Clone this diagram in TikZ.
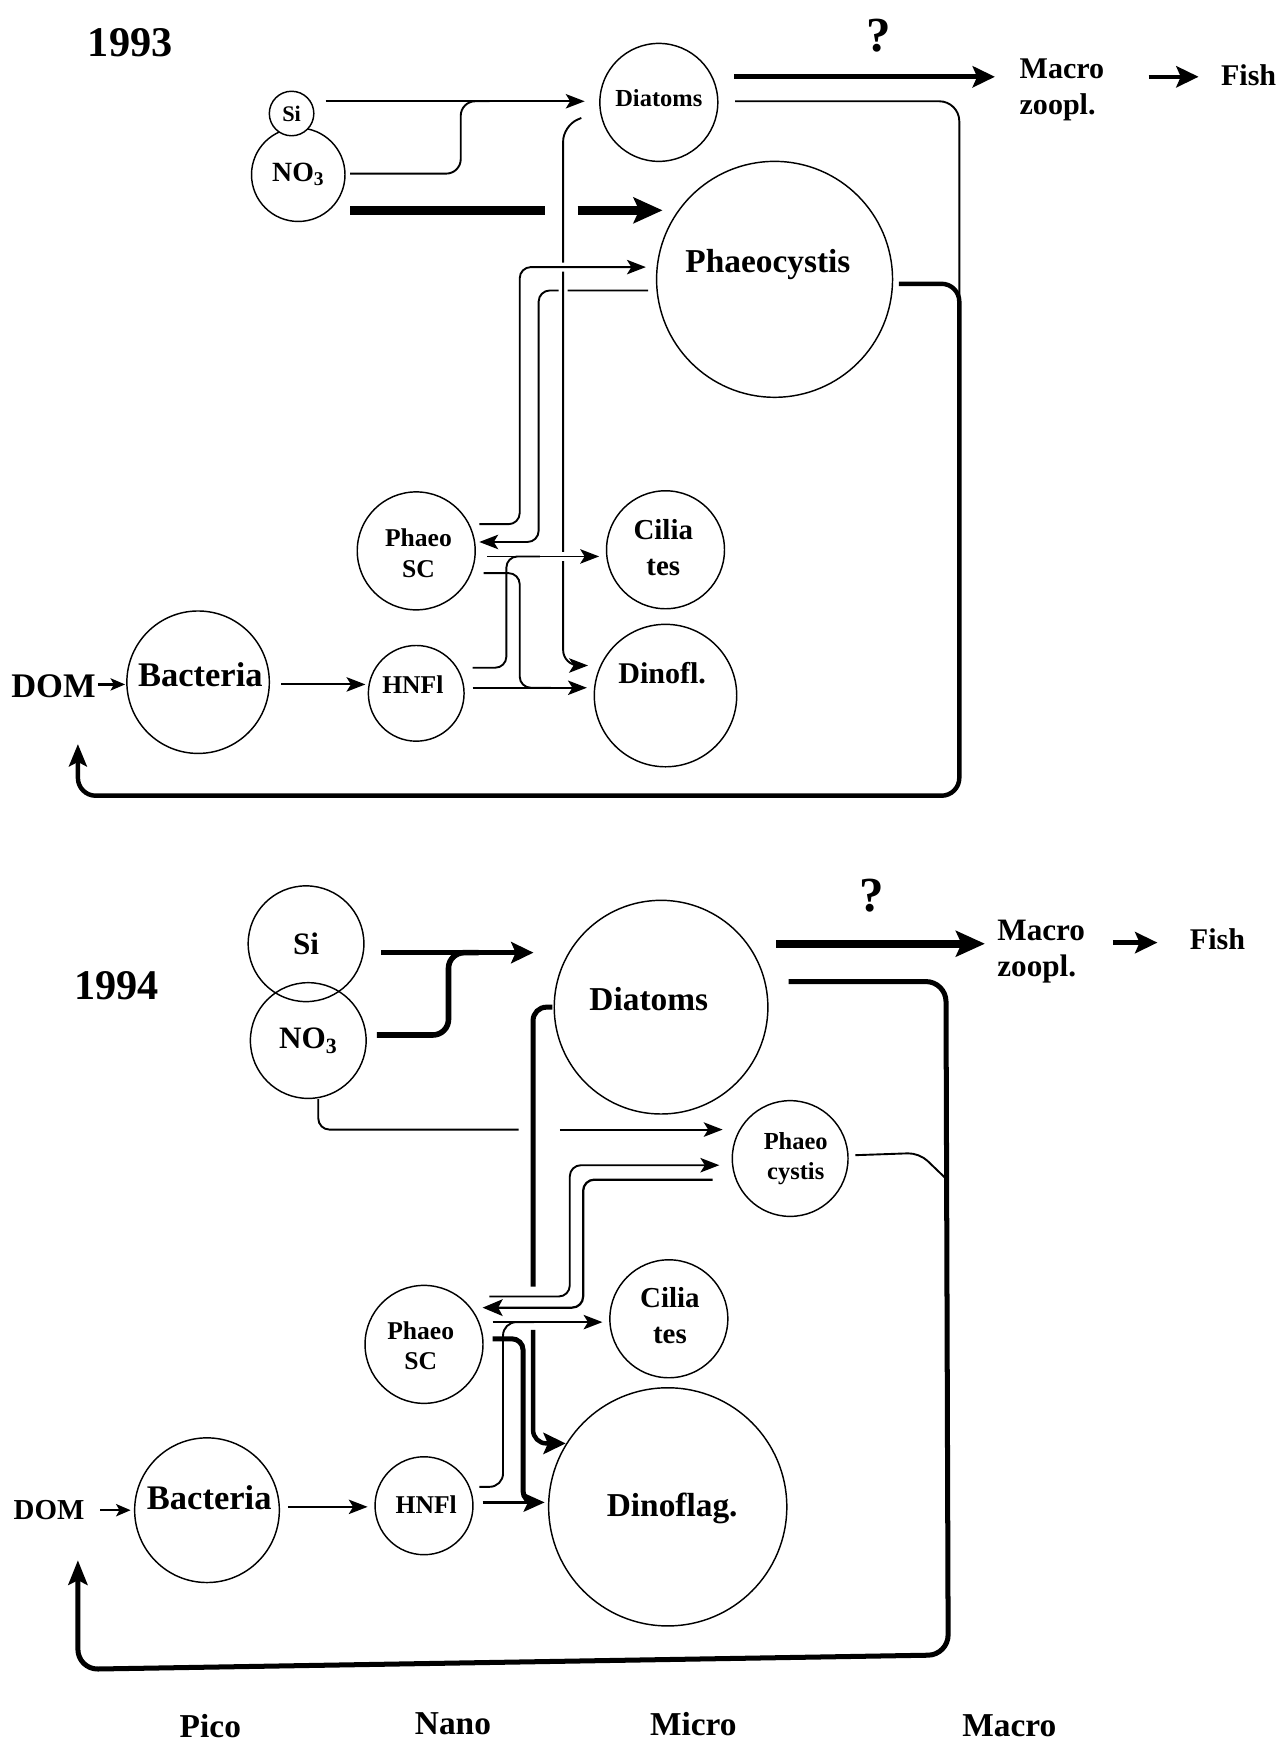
\documentclass[tikz,border=0pt]{standalone}
\usepackage{fontspec}
\setmainfont{Liberation Serif}
\usetikzlibrary{arrows.meta,calc}
\begin{document}
\begin{tikzpicture}[x=1pt,y=-1pt,
  cir/.style={draw, circle, inner sep=0pt, line width=1.3pt},
  lab/.style 2 args={font=\bfseries\fontsize{#1}{#2}\selectfont, align=center, inner sep=0pt},
  ln/.style={line width=1.7pt},
  thinarr/.style={ln, -{Stealth[length=17pt,width=13pt,inset=4pt]}},
  medarr/.style={line width=2pt, -{Stealth[length=18pt,width=15pt,inset=4pt]}},
  thk/.style={line width=4.5pt},
  thkarr/.style={thk, -{Stealth[length=20pt,width=19pt,inset=4pt]}},
  vthk/.style={line width=7.5pt},
  vthkarr/.style={vthk, -{Stealth[length=26pt,width=23pt,inset=5pt]}},
  halo/.style={preaction={draw=white, line width=8pt, -}},
]
\useasboundingbox (0,0) rectangle (1150,1568);

%================ 1993 =================
\node[cir, minimum size=84pt, lab={25}{30}] (no31) at (268,157) {NO\textsubscript{3}};
\node[cir, fill=white, minimum size=40pt, lab={20}{24}] (si1) at (262,102) {Si};
\node[cir, minimum size=106pt] (diat1) at (592,92) {};
\node[lab={22}{26}] (diat1t) at (592,88) {Diatoms};
\node[cir, minimum size=212pt] (phc1) at (696,251) {};
\node[lab={30}{36}] (phc1t) at (690,238) {Phaeocystis};
\node[cir, minimum size=106pt] (psc1) at (374,495) {};
\node[lab={23}{28}] (psc1t) at (376,497) {Phaeo\\SC};
\node[cir, minimum size=106pt] (cil1) at (598,494) {};
\node[lab={26}{32}] (cil1t) at (596,492) {Cilia\\tes};
\node[cir, minimum size=86pt] (hnf1) at (374,623) {};
\node[lab={23}{28}] (hnf1t) at (371,615) {HNFl};
\node[cir, minimum size=128pt] (dino1) at (598,625) {};
\node[lab={27}{32}] (dino1t) at (595,605) {Dinofl.};
\node[cir, minimum size=128pt] (bact1) at (178,613) {};
\node[lab={31}{36}] (bact1t) at (180,606) {Bacteria};
\node[lab={31}{36}] (dom1) at (48,617) {DOM};
\node[lab={38}{44}] (y1993) at (117,38) {1993};
\node[lab={44}{50}] (q1) at (790,32) {?};
\node[lab={27}{32}, anchor=west, align=left] (mac1) at (916,81) {Macro\\zoopl.};
\node[lab={27}{32}, anchor=west] (fish1) at (1097,68) {Fish};

\coordinate (j1) at (440,91);
\coordinate (g1) at (519,189);
\coordinate (j2) at (485,500);
\coordinate (j3) at (495,618);

% Si -> Diatoms, NO3 joins
\draw[thinarr] ($(si1.east)+(10,-11)$) -- ($(diat1.west)+(-13,-1)$);
\draw[ln, rounded corners=13pt] ($(no31.east)+(4,-1)$) -- (414,156) -- (414,91) -- (j1);
% NO3 -> Phaeocystis (thick, broken)
\draw[vthk] ($(no31.east)+(4,32)$) -- (490,189);
\draw[vthkarr] (g1) -- ($(phc1.west)+(6,-62)$);
% Diatoms -> Macrozoopl -> Fish
\draw[thkarr] ($(diat1.east)+(14,-23)$) -- ($(mac1.west)+(-22,-12)$);
\draw[thkarr, line width=4pt] ($(fish1.west)+(-65,1)$) -- ($(fish1.west)+(-20,1)$);
% return loop
\draw[ln, rounded corners=18pt] ($(diat1.east)+(15,-1)$) -- (862,91) -- (862,275);
\draw[line width=4pt, -{Stealth[length=20pt,width=16pt,inset=4pt]}, rounded corners=16pt]
  ($(phc1.east)+(5,4)$) -- (862,255) -- (862,715) -- (70,715) -- ($(dom1.south)+(22,41)$);
% Phaeocystis -> Phaeo SC (inner)
\draw[thinarr, rounded corners=10pt] ($(phc1.west)+(-7,10)$) -- (484,261) -- (484,487) -- ($(psc1.east)+(3,-8)$);
% Diatoms -> Dinofl.
\draw[thinarr, halo, rounded corners=14pt] ($(diat1.west)+(-16,14)$) -- (506,113) -- (506,598) -- ($(dino1.west)+(-5,-27)$);
% Phaeo SC -> Phaeocystis (outer)
\draw[thinarr, halo, rounded corners=10pt] ($(psc1.east)+(3,-24)$) -- (467,471) -- (467,240) -- ($(phc1.west)+(-9,-11)$);
% Phaeo SC -> Ciliates
\draw[thinarr, halo] ($(psc1.east)+(10,5)$) -- ($(cil1.west)+(-6,6)$);
% HNFl -> Ciliates
\draw[ln, rounded corners=10pt] ($(hnf1.east)+(7,-23)$) -- (455,600) -- (455,500) -- (j2);
% Phaeo SC -> Dinofl.
\draw[ln, rounded corners=10pt] ($(psc1.east)+(7,20)$) -- (467,515) -- (467,618) -- (j3);
% HNFl -> Dinofl.
\draw[thinarr] ($(hnf1.east)+(7,-5)$) -- ($(dino1.west)+(-6,-7)$);
% DOM -> Bacteria -> HNFl
\draw[line width=2pt, -{Stealth[length=13pt,width=11pt,inset=3pt]}] ($(dom1.east)+(2,-2)$) -- ($(bact1.west)+(-1,2)$);
\draw[thinarr] ($(bact1.east)+(10,2)$) -- ($(hnf1.west)+(-2,-8)$);

%================ 1994 =================
\node[cir, minimum size=104pt, lab={28}{32}] (si2) at (275,848) {Si};
\node[cir, minimum size=104pt, lab={28}{32}] (no32) at (277,935) {NO\textsubscript{3}};
\node[cir, minimum size=192pt] (diat2) at (594,905) {};
\node[lab={30}{36}] (diat2t) at (583,898) {Diatoms};
\node[cir, minimum size=104pt] (phc2) at (710,1041) {};
\node[lab={22}{27}] (phc2t) at (715,1041) {Phaeo\\cystis};
\node[cir, minimum size=106pt] (psc2) at (381,1208) {};
\node[lab={23}{27}] (psc2t) at (378,1209) {Phaeo\\SC};
\node[cir, minimum size=106pt] (cil2) at (601,1185) {};
\node[lab={26}{32}] (cil2t) at (602,1182) {Cilia\\tes};
\node[cir, minimum size=88pt] (hnf2) at (381,1353) {};
\node[lab={23}{28}] (hnf2t) at (383,1352) {HNFl};
\node[cir, minimum size=214pt] (dino2) at (600,1354) {};
\node[lab={30}{36}] (dino2t) at (604,1355) {Dinoflag.};
\node[cir, minimum size=130pt] (bact2) at (186,1357) {};
\node[lab={31}{36}] (bact2t) at (188,1346) {Bacteria};
\node[lab={26}{32}] (dom2) at (44,1357) {DOM};
\node[lab={38}{44}] (y1994) at (105,886) {1994};
\node[lab={44}{50}] (q2) at (783,805) {?};
\node[lab={28}{33}, anchor=west, align=left] (mac2) at (896,855) {Macro\\zoopl.};
\node[lab={27}{32}, anchor=west] (fish2) at (1069,844) {Fish};

\node[lab={30}{36}] (pico) at (189,1551) {Pico};
\node[lab={30}{36}] (nano) at (407,1549) {Nano};
\node[lab={30}{36}] (micro) at (623,1549) {Micro};
\node[lab={30}{36}] (macro) at (907,1551) {Macro};

\coordinate (k1) at (430,856);
\coordinate (k2) at (466,1015);
\coordinate (g2) at (503,1015);
\coordinate (k3) at (479,1156);
\coordinate (g3) at (479,1195);
\coordinate (k4) at (851,1060);
\coordinate (k5) at (480,1188);
\coordinate (k6) at (480,1350);

% Si -> Diatoms, NO3 joins
\draw[thkarr, line width=5pt] ($(si2.east)+(15,8)$) -- ($(diat2.west)+(-18,-49)$);
\draw[line width=5pt, rounded corners=14pt] ($(no32.east)+(9,-5)$) -- (403,930) -- (403,856) -- (k1);
% Diatoms -> Macrozoopl -> Fish
\draw[vthkarr] ($(diat2.east)+(7,-57)$) -- ($(mac2.west)+(-11,-7)$);
\draw[thkarr, line width=5pt] ($(fish2.west)+(-69,3)$) -- ($(fish2.west)+(-29,3)$);
% return loop
\draw[line width=4.5pt, -{Stealth[length=22pt,width=17pt,inset=4pt]}, rounded corners=18pt]
  ($(diat2.east)+(18,-23)$) -- (850,882) -- (852,1487) -- (70,1500) -- ($(dom2.south)+(26,36)$);
\draw[ln, rounded corners=10pt] ($(phc2.east)+(6,-3)$) -- (826,1036) -- (k4);
% NO3 -> Phaeocystis (broken)
\draw[ln, rounded corners=10pt] ($(no32.south)+(9,0)$) -- (286,1015) -- (k2);
\draw[thinarr] (g2) -- ($(phc2.west)+(-8,-26)$);
% Diatoms -> Dinoflag. (thick, broken)
\draw[line width=4.5pt, rounded corners=12pt] ($(diat2.west)+(-1,0)$) -- (479,905) -- (k3);
\draw[thkarr, line width=4pt, rounded corners=12pt] (g3) -- (479,1297) -- ($(dino2.west)+(16,-57)$);
% Phaeo SC -> Phaeocystis (outer)
\draw[thinarr, rounded corners=10pt] ($(psc2.east)+(5,-43)$) -- (512,1165) -- (512,1047) -- ($(phc2.west)+(-11,6)$);
% Phaeocystis -> Phaeo SC (inner)
\draw[medarr, rounded corners=10pt] ($(phc2.west)+(-17,19)$) -- (524,1060) -- (524,1175) -- ($(psc2.east)+(-1,-33)$);
% Phaeo SC -> Ciliates
\draw[thinarr] ($(psc2.east)+(8,-20)$) -- ($(cil2.west)+(-6,3)$);
% HNFl -> Ciliates
\draw[ln, rounded corners=12pt] ($(hnf2.east)+(5,-17)$) -- (452,1336) -- (452,1188) -- (k5);
% Phaeo SC -> Dinoflag. (thick)
\draw[line width=4.5pt, rounded corners=10pt] ($(psc2.east)+(8,-5)$) -- (470,1203) -- (470,1350) -- (k6);
% HNFl -> Dinoflag.
\draw[line width=2pt, -{Stealth[length=19pt,width=17pt,inset=4pt]}] ($(hnf2.east)+(8,-3)$) -- ($(dino2.west)+(-3,-4)$);
% DOM -> Bacteria -> HNFl
\draw[line width=2pt, -{Stealth[length=13pt,width=11pt,inset=3pt]}] ($(dom2.east)+(14,0)$) -- ($(bact2.west)+(-3,0)$);
\draw[thinarr] ($(bact2.east)+(7,-3)$) -- ($(hnf2.west)+(-6,1)$);
\end{tikzpicture}
\end{document}
